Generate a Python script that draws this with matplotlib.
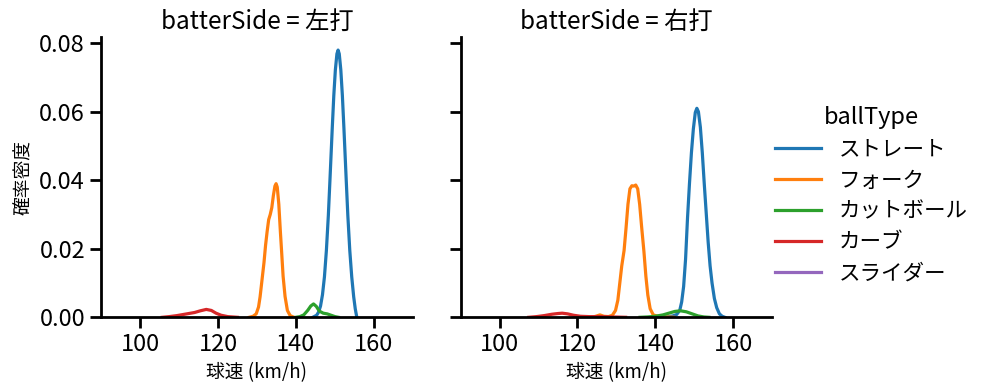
import matplotlib
matplotlib.use('Agg')
import matplotlib.pyplot as plt

plt.rcParams['font.family'] = ['Noto Sans CJK JP', 'DejaVu Sans']
plt.rcParams['axes.unicode_minus'] = False

colors = {'ストレート': '#1f77b4', 'フォーク': '#ff7f0e', 'カットボール': '#2ca02c',
          'カーブ': '#d62728', 'スライダー': '#9467bd'}
ball_types = ['ストレート', 'フォーク', 'カットボール', 'カーブ', 'スライダー']
sides = ['左打', '右打']

# 左打 の密度曲線
left_straight_x = [144.3, 145.3, 145.8, 146.3, 146.8, 147.3, 147.8, 148.3, 148.7, 149.3, 149.7, 150.1, 150.5,
                   150.8, 151.1, 151.5, 151.9, 152.3, 152.9, 153.3, 153.8, 154.3, 154.8, 155.2, 155.6]
left_straight_y = [0.0, 0.0006, 0.0015, 0.0033, 0.0066, 0.0118, 0.0195, 0.0297, 0.0397, 0.0551, 0.0647, 0.0722,
                   0.0769, 0.0780, 0.0769, 0.0722, 0.0647, 0.0551, 0.0397, 0.0297, 0.0195, 0.0118, 0.0060, 0.0025, 0.0]
left_fork_x = [128.0, 129.0, 129.8, 130.4, 130.8, 131.3, 131.8, 132.2, 132.6, 133.0, 133.4, 133.8, 134.2,
               134.6, 134.9, 135.2, 135.6, 136.0, 136.3, 136.7, 137.2, 137.8, 138.5, 139.5]
left_fork_y = [0.0, 0.0003, 0.0010, 0.0030, 0.0060, 0.0110, 0.0160, 0.0210, 0.0250, 0.0285, 0.0300, 0.0320,
               0.0355, 0.0383, 0.0390, 0.0380, 0.0330, 0.0250, 0.0195, 0.0120, 0.0061, 0.0020, 0.0005, 0.0]
left_cut_x = [140.0, 141.0, 142.0, 143.0, 143.8, 144.5, 145.2, 146.0, 147.0, 148.0, 149.0, 150.0, 150.9]
left_cut_y = [0.0, 0.0002, 0.0007, 0.0020, 0.0033, 0.0039, 0.0032, 0.0018, 0.0012, 0.0010, 0.0006, 0.0002, 0.0]
left_curve_x = [105.7, 107.5, 109.5, 112.0, 114.0, 115.5, 117.0, 118.3, 119.5, 120.8, 122.5, 125.0]
left_curve_y = [0.0, 0.0002, 0.0005, 0.0010, 0.0014, 0.0019, 0.0023, 0.0020, 0.0012, 0.0006, 0.0002, 0.0]

# 右打 の密度曲線
right_straight_x = [141.4, 143.0, 144.5, 145.5, 146.3, 146.8, 147.3, 147.8, 148.3, 148.8, 149.3, 149.8, 150.3,
                    150.7, 151.1, 151.6, 152.1, 152.6, 153.1, 153.6, 154.1, 154.6, 155.2, 155.8, 156.5, 157.2, 157.9]
right_straight_y = [0.0, 0.0001, 0.0004, 0.0008, 0.0020, 0.0045, 0.0090, 0.0170, 0.0290, 0.0390, 0.0480, 0.0550,
                    0.0598, 0.0610, 0.0600, 0.0555, 0.0480, 0.0390, 0.0305, 0.0220, 0.0150, 0.0100, 0.0055,
                    0.0028, 0.0010, 0.0003, 0.0]
right_fork_x = [123.8, 125.0, 125.8, 126.8, 128.0, 129.0, 129.8, 130.4, 130.9, 131.4, 132.0, 132.5, 133.0, 133.5,
                134.0, 134.5, 135.0, 135.5, 136.0, 136.5, 137.1, 137.6, 138.1, 138.7, 139.5, 141.0, 143.0, 144.8]
right_fork_y = [0.0, 0.0004, 0.0007, 0.0003, 0.0002, 0.0006, 0.0020, 0.0050, 0.0100, 0.0150, 0.0195, 0.0260,
                0.0330, 0.0375, 0.0384, 0.0383, 0.0386, 0.0375, 0.0330, 0.0265, 0.0192, 0.0120, 0.0065, 0.0025,
                0.0007, 0.0002, 0.0001, 0.0]
right_cut_x = [136.1, 138.0, 140.0, 142.0, 143.5, 145.0, 146.5, 148.0, 149.5, 151.0, 152.5, 153.8]
right_cut_y = [0.0, 0.0001, 0.0003, 0.0007, 0.0012, 0.0017, 0.0019, 0.0016, 0.0010, 0.0004, 0.0001, 0.0]
right_curve_x = [107.5, 109.5, 111.5, 113.5, 115.0, 116.1, 117.5, 119.0, 120.8, 123.0, 126.0, 129.0, 132.4]
right_curve_y = [0.0, 0.0002, 0.0005, 0.0009, 0.0011, 0.0012, 0.0010, 0.0006, 0.0003, 0.0002, 0.0002, 0.0001, 0.0]

curves = {
    '左打': [('ストレート', left_straight_x, left_straight_y), ('フォーク', left_fork_x, left_fork_y),
           ('カットボール', left_cut_x, left_cut_y), ('カーブ', left_curve_x, left_curve_y)],
    '右打': [('ストレート', right_straight_x, right_straight_y), ('フォーク', right_fork_x, right_fork_y),
           ('カットボール', right_cut_x, right_cut_y), ('カーブ', right_curve_x, right_curve_y)],
}

fig = plt.figure(figsize=(9.97, 3.91), dpi=100)
ax1 = fig.add_axes([0.1013, 0.1885, 0.3129, 0.7176])
ax2 = fig.add_axes([0.462, 0.1885, 0.3123, 0.7176], sharey=ax1)

for ax, side in zip([ax1, ax2], sides):
    for name, xs, ys in curves[side]:
        ax.plot(xs, ys, color=colors[name], linewidth=2.3)
    ax.set_xlim(90, 170)
    ax.set_xticks([100, 120, 140, 160])
    ax.set_title(f'batterSide = {side}', fontsize=17.5)
    ax.set_xlabel('球速 (km/h)', fontsize=13.5)
    ax.spines['top'].set_visible(False)
    ax.spines['right'].set_visible(False)
    for s in ['left', 'bottom']:
        ax.spines[s].set_linewidth(2)
    ax.tick_params(width=2, length=8, labelsize=17)

ax1.set_ylim(0, 0.0819)
ax1.set_yticks([0, 0.02, 0.04, 0.06, 0.08])
ax1.set_ylabel('確率密度', fontsize=13.5)
ax2.tick_params(labelleft=False)

handles = [plt.Line2D([], [], color=colors[b], linewidth=2.3) for b in ball_types]
fig.legend(handles, ball_types, title='ballType', loc='center left', bbox_to_anchor=(0.758, 0.5),
           frameon=False, fontsize=15.5, title_fontsize=17, labelspacing=0.42, handlelength=2.15)

fig.savefig('out.png', dpi=100)
